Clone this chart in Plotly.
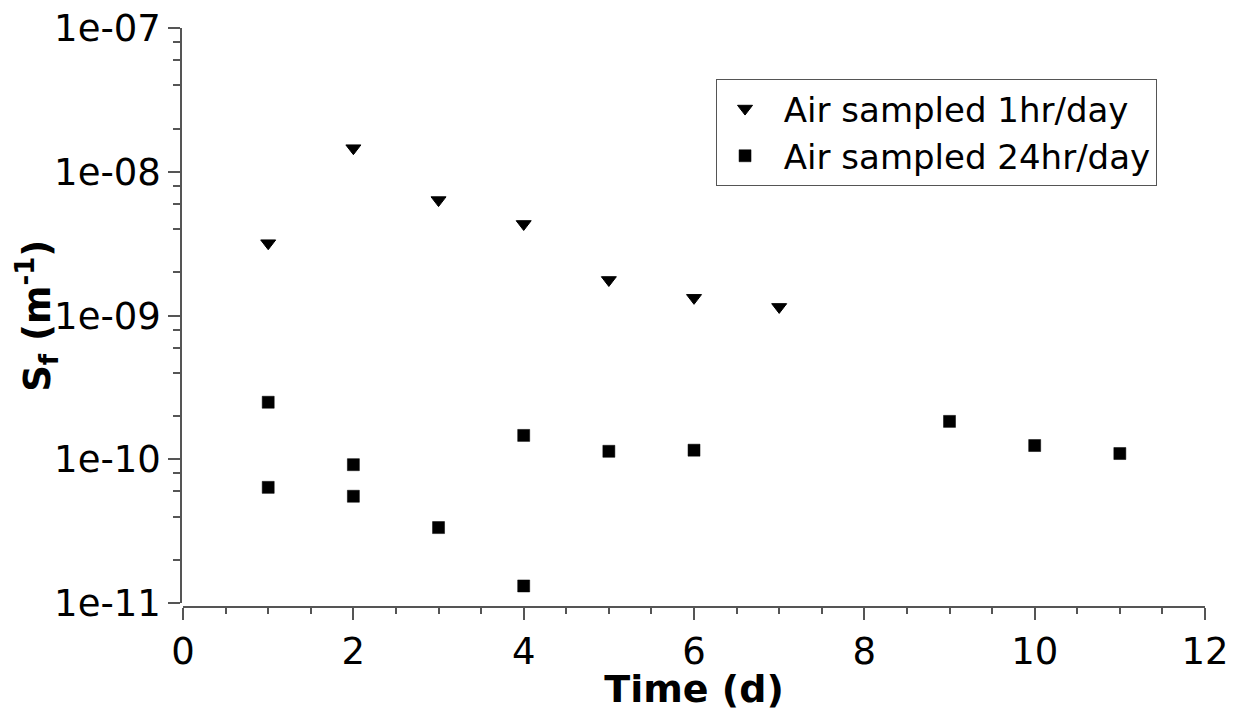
import plotly.graph_objects as go

# Data
t_1hr = [1, 2, 3, 4, 5, 6, 7]
sf_1hr = [3.19e-9, 1.46e-8, 6.36e-9, 4.34e-9, 1.77e-9, 1.33e-9, 1.15e-9]

t_24hr = [1, 1, 2, 2, 3, 4, 4, 5, 6, 9, 10, 11]
sf_24hr = [2.5e-10, 6.4e-11, 9.2e-11, 5.55e-11, 3.36e-11, 1.47e-10, 1.32e-11,
           1.14e-10, 1.16e-10, 1.84e-10, 1.25e-10, 1.1e-10]

y_tickvals = [1e-11, 1e-10, 1e-9, 1e-8, 1e-7]
y_ticktext = ["1e-11", "1e-10", "1e-09", "1e-08", "1e-07"]
y_minor = [m * d for d in [1e-11, 1e-10, 1e-9, 1e-8] for m in (2, 4, 6, 8)]

FONT = "DejaVu Sans"
AXC = "#555555"

fig = go.Figure()
fig.add_trace(go.Scatter(
    x=t_1hr, y=sf_1hr, mode="markers", name=" Air sampled 1hr/day",
    marker=dict(symbol="triangle-down", size=13, color="black",
                line=dict(color="black", width=1)),
))
fig.add_trace(go.Scatter(
    x=t_24hr, y=sf_24hr, mode="markers", name=" Air sampled 24hr/day",
    marker=dict(symbol="square", size=12, color="black",
                line=dict(color="black", width=0.5)),
))

fig.update_layout(
    width=1239, height=711,
    margin=dict(l=181, r=34, t=28, b=104),
    paper_bgcolor="white", plot_bgcolor="white",
    font=dict(family=FONT, color="black"),
    showlegend=True,
    legend=dict(
        x=0.5225, y=0.912, xanchor="left", yanchor="top",
        bordercolor="#555555", borderwidth=1, bgcolor="white",
        font=dict(family=FONT, size=34, color="black"),
        itemwidth=46,
    ),
    xaxis=dict(
        domain=[0.002, 1], anchor="free", position=0, automargin=False,
        range=[0, 12], tickmode="array", tickvals=[0, 2, 4, 6, 8, 10, 12],
        showline=True, linecolor=AXC, linewidth=1.5,
        ticks="outside", ticklen=12, tickwidth=1.5, tickcolor=AXC,
        minor=dict(ticks="outside", ticklen=6, tickwidth=1.5, tickcolor=AXC,
                   dtick=0.5, tick0=0),
        showgrid=False, zeroline=False,
        tickfont=dict(family=FONT, size=37, color="black"),
        title=dict(text="<b>Time (d)</b>", font=dict(family=FONT, size=38, color="black"),
                   standoff=9),
    ),
    yaxis=dict(
        domain=[0.0064, 1], anchor="free", position=0, automargin=False,
        type="log", range=[-11, -7],
        tickmode="array", tickvals=y_tickvals, ticktext=y_ticktext,
        showline=True, linecolor=AXC, linewidth=1.5,
        ticks="outside", ticklen=12, tickwidth=1.5, tickcolor=AXC,
        minor=dict(ticks="outside", ticklen=7, tickwidth=1.5, tickcolor=AXC,
                   tickmode="array", tickvals=y_minor),
        showgrid=False, zeroline=False,
        tickfont=dict(family=FONT, size=37, color="black"),
    ),
    annotations=[dict(
        text="<b>S<sub>f</sub> (m<sup>-1</sup>)</b>",
        xref="paper", yref="paper", x=-0.1406, y=0.503,
        xanchor="center", yanchor="middle", textangle=-90, showarrow=False,
        font=dict(family=FONT, size=37, color="black"),
    )],
)

fig.write_html("out.html")
